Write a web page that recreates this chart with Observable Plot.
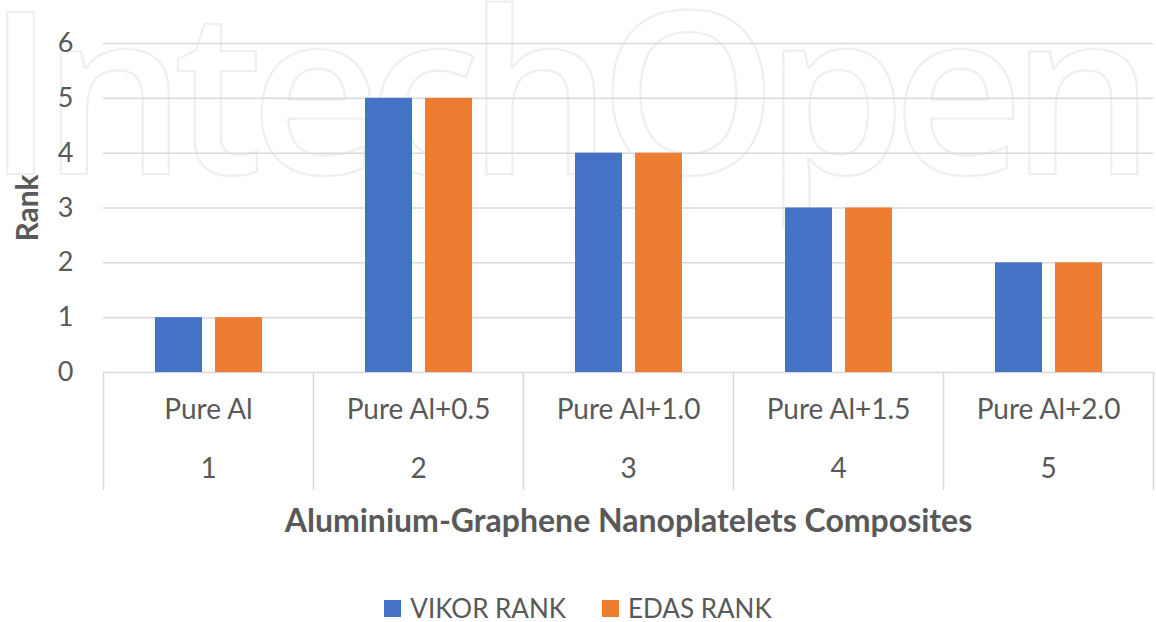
<!DOCTYPE html>
<html><head><meta charset="utf-8">
<script src="https://cdn.jsdelivr.net/npm/d3@7"></script>
<script src="https://cdn.jsdelivr.net/npm/@observablehq/plot@0.6"></script>
<style>
body{margin:0;background:#fff;font-family:Lato,sans-serif;overflow:hidden;}
#chart svg{display:block;}
#legend{display:flex;justify-content:center;align-items:center;height:28px;font-size:26px;color:#595959;}
.item{display:flex;align-items:center;margin:0 18px;}
.sw{width:17px;height:17px;margin-right:9px;}
</style></head><body>
<div id="chart"></div>
<div id="legend"></div>
<script>
const names = ["Pure Al", "Pure Al+0.5", "Pure Al+1.0", "Pure Al+1.5", "Pure Al+2.0"];
const levels = ["1", "2", "3", "4", "5"];
const series = ["VIKOR RANK", "EDAS RANK"];
const vikorRank = [1, 5, 4, 3, 2];
const edasRank = [1, 5, 4, 3, 2];
const colors = ["#4472C4", "#ED7D31"];
const yTicks = [0, 1, 2, 3, 4, 5, 6];
const yLabel = "Rank";
const xLabel = "Aluminium-Graphene Nanoplatelets Composites";
const watermark = "IntechOpen";

const rows = names.flatMap((n, i) => [
  {name: n, series: series[0], value: vikorRank[i]},
  {name: n, series: series[1], value: edasRank[i]}
]);

const W = 1156, H = 594, mL = 103, mR = 3, mT = 43, mB = H - 372;
const band = (W - mL - mR) / names.length;
const grey = "#595959", gridC = "#d9d9d9";

const chart = Plot.plot({
  width: W, height: H,
  marginLeft: mL, marginRight: mR, marginTop: mT, marginBottom: mB,
  style: {fontFamily: "Lato, sans-serif", color: grey, background: "transparent", overflow: "visible"},
  fx: {domain: names, padding: 0, axis: null},
  x: {domain: series, paddingInner: 13 / 60, paddingOuter: 0.858, axis: null},
  y: {domain: [0, 6], axis: null},
  color: {domain: series, range: colors},
  marks: [
    Plot.gridY(yTicks, {stroke: gridC, strokeOpacity: 1, strokeWidth: 1.5}),
    Plot.axisY(yTicks, {tickSize: 0, tickPadding: 30, tickFormat: d => String(d), fontSize: 27, fill: grey, label: null}),
    Plot.barY(rows, {fx: "name", x: "series", y: "value", fill: "series"}),
    Plot.ruleX(names, {fx: d => d, x: null, y1: 0, y2: 0, insetBottom: -118, dx: -band / 2, stroke: gridC, strokeWidth: 1.5}),
    Plot.ruleX(names.slice(-1), {fx: d => d, x: null, y1: 0, y2: 0, insetBottom: -118, dx: band / 2, stroke: gridC, strokeWidth: 1.5}),
    Plot.text(names, {fx: d => d, text: d => d, frameAnchor: "bottom", lineAnchor: "middle", dy: 38, fontSize: 28, fill: grey}),
    Plot.text(names, {fx: d => d, text: (d, i) => levels[i], frameAnchor: "bottom", lineAnchor: "middle", dy: 97, fontSize: 28, fill: grey}),
    Plot.text([yLabel], {fx: () => names[0], frameAnchor: "left", textAnchor: "middle", lineAnchor: "middle", rotate: -90, dx: -75, fontSize: 30, fontWeight: "bold", fill: grey}),
    Plot.text([xLabel], {fx: () => names[2], frameAnchor: "bottom", textAnchor: "middle", lineAnchor: "middle", dy: 149, fontSize: 32, fontWeight: "bold", fill: grey})
  ]
});

d3.select(chart).insert("text", ":first-child")
  .attr("x", -14).attr("y", 174)
  .attr("text-anchor", "start")
  .attr("font-family", "Open Sans, sans-serif")
  .attr("font-size", 227)
  .attr("font-weight", 600)
  .attr("letter-spacing", -13)
  .attr("fill", "none")
  .attr("stroke", "#efefef")
  .attr("stroke-width", 2.2)
  .text(watermark);

document.getElementById("chart").appendChild(chart);

const legend = d3.select("#legend");
series.forEach((s, i) => {
  const it = legend.append("div").attr("class", "item");
  it.append("div").attr("class", "sw").style("background", colors[i]);
  it.append("span").text(s);
});
</script>
</body></html>
